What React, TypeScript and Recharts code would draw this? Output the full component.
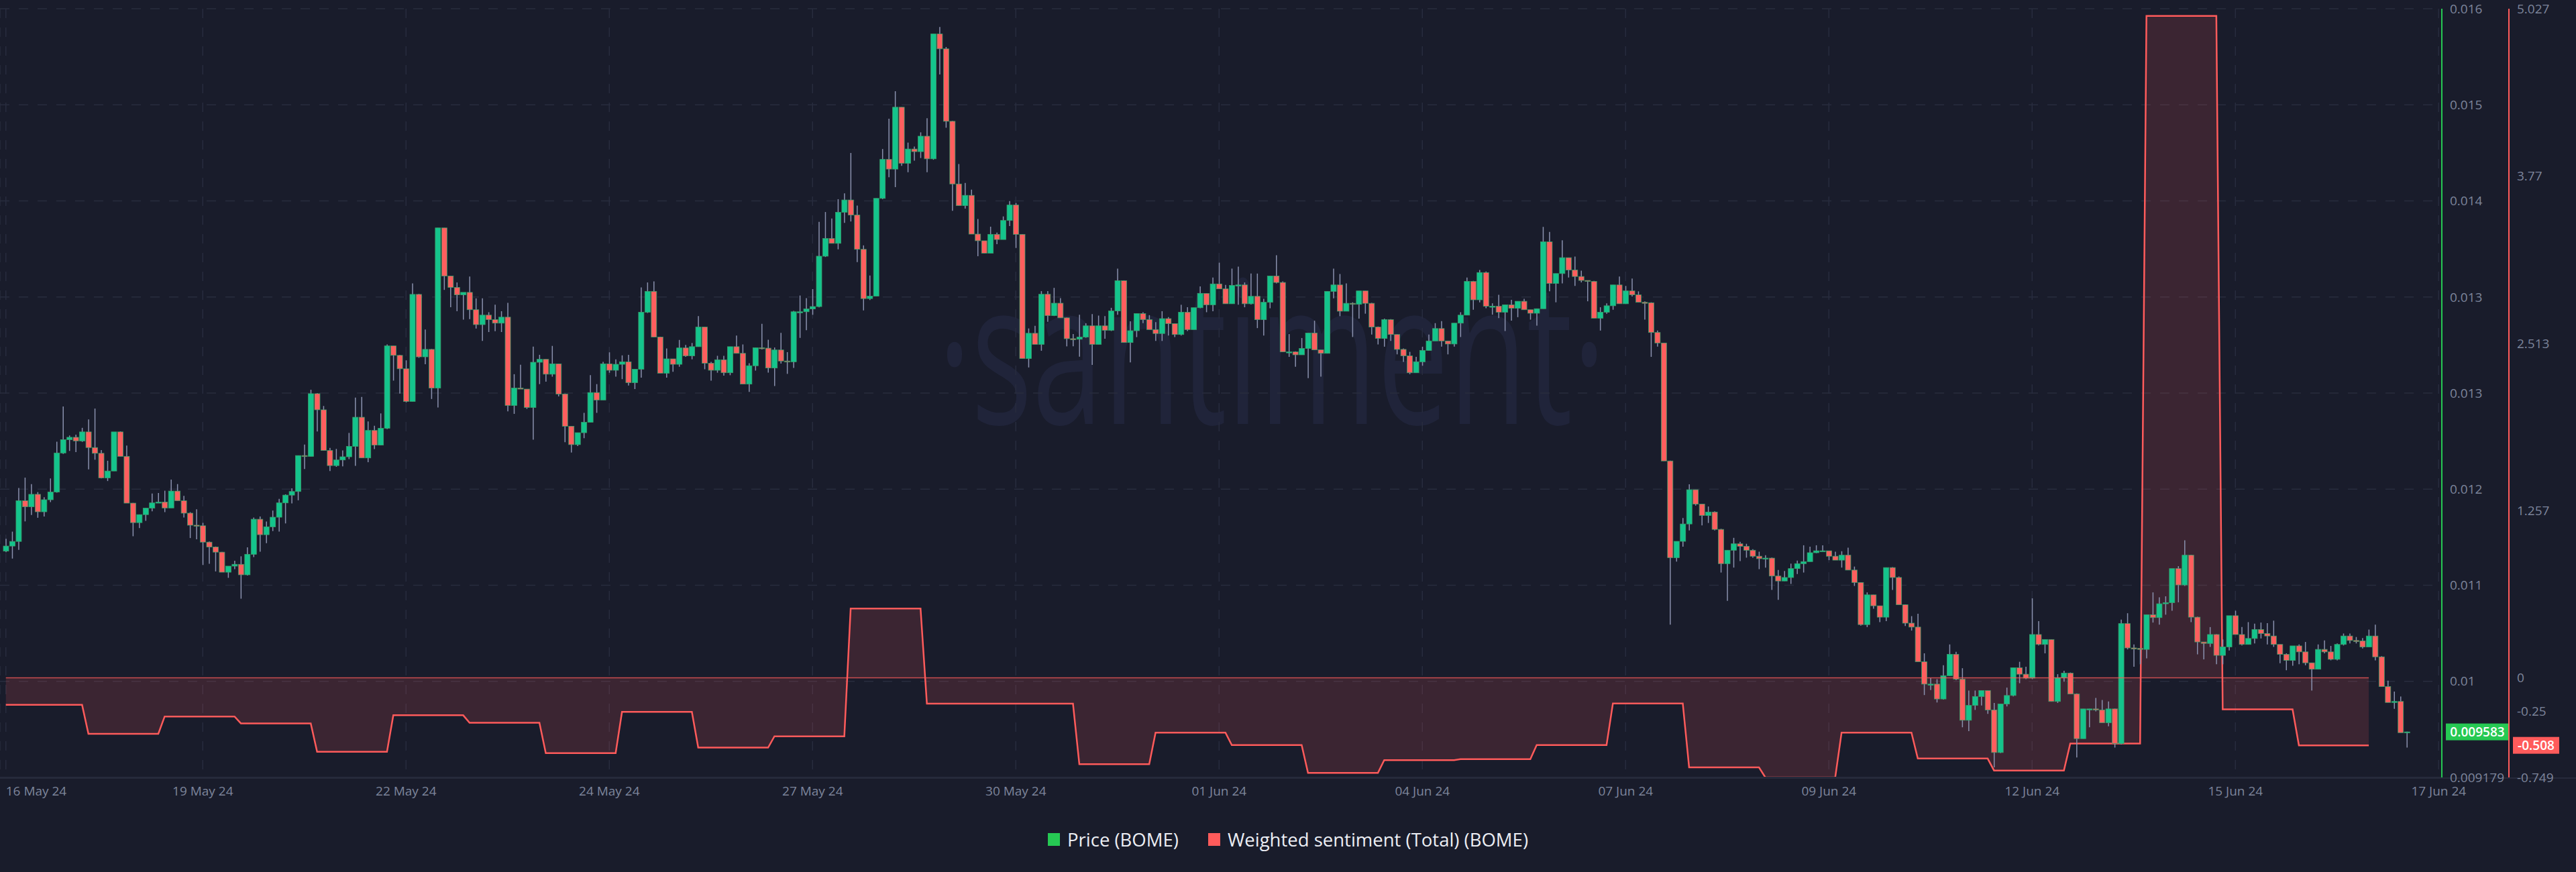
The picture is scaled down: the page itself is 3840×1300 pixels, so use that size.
import { ComposedChart, Bar, Area, XAxis, YAxis, CartesianGrid, ReferenceLine, Legend } from 'recharts';

// 2h candles, BOME price. open of each candle = close of the previous one
const firstOpen = 0.011187;

const close = [
  0.011232, 0.011273, 0.011634, 0.011581, 0.011691, 0.011536, 0.011643, 0.011711, 0.012058, 0.012176,
  0.012197, 0.012165, 0.012245, 0.012106, 0.012055, 0.011837, 0.011898, 0.012245, 0.012028, 0.011613,
  0.01144, 0.011511, 0.011568, 0.011615, 0.011622, 0.01157, 0.01172, 0.011634, 0.011524, 0.011417,
  0.011412, 0.011267, 0.011223, 0.011178, 0.011, 0.011054, 0.01107, 0.010977, 0.011159, 0.01147,
  0.011333, 0.011403, 0.011488, 0.011615, 0.011684, 0.011716, 0.012035, 0.012028, 0.012584, 0.012441,
  0.01208, 0.011946, 0.011996, 0.012024, 0.012117, 0.012375, 0.012014, 0.012258, 0.012128, 0.012277,
  0.013008, 0.012924, 0.012805, 0.012515, 0.013465, 0.012911, 0.012977, 0.012634, 0.014055, 0.013628,
  0.013527, 0.013461, 0.013483, 0.013329, 0.013197, 0.013281, 0.013241, 0.01321, 0.013263, 0.01248,
  0.012634, 0.012625, 0.012462, 0.012863, 0.012889, 0.012757, 0.012849, 0.012581, 0.012295, 0.012132,
  0.012238, 0.01233, 0.012594, 0.012528, 0.012849, 0.012792, 0.012845, 0.012867, 0.012682, 0.012801,
  0.013307, 0.013492, 0.013087, 0.012766, 0.012893, 0.012845, 0.01299, 0.01292, 0.013001, 0.013175,
  0.012854, 0.012792, 0.012885, 0.01277, 0.013001, 0.012942, 0.012669, 0.012832, 0.012992, 0.012988,
  0.012812, 0.012972, 0.012874, 0.012867, 0.013311, 0.013311, 0.013336, 0.013357, 0.013804, 0.013961,
  0.013918, 0.014194, 0.014303, 0.014169, 0.013865, 0.013428, 0.01345, 0.014317, 0.014663, 0.014577,
  0.015126, 0.014629, 0.014755, 0.014732, 0.014869, 0.014668, 0.015776, 0.015644, 0.015001, 0.014445,
  0.014253, 0.014344, 0.014, 0.013941, 0.013831, 0.013998, 0.013952, 0.014121, 0.014258, 0.013998,
  0.012896, 0.01312, 0.013022, 0.013466, 0.013277, 0.013387, 0.013257, 0.013072, 0.013067, 0.013086,
  0.013186, 0.013022, 0.013186, 0.013147, 0.013318, 0.013587, 0.013038, 0.013143, 0.013295, 0.013241,
  0.013153, 0.013118, 0.01325, 0.013206, 0.013109, 0.013307, 0.013153, 0.013347, 0.013474, 0.013373,
  0.013558, 0.013514, 0.013382, 0.013545, 0.013549, 0.013382, 0.013448, 0.013241, 0.013395, 0.013628,
  0.013571, 0.012955, 0.012955, 0.012929, 0.012986, 0.013122, 0.012973, 0.012942, 0.013492, 0.013549,
  0.013316, 0.013386, 0.013377, 0.013496, 0.013386, 0.013175, 0.013074, 0.013241, 0.013109, 0.012977,
  0.01292, 0.01277, 0.012867, 0.012968, 0.013052, 0.013162, 0.013052, 0.013025, 0.01321, 0.013281,
  0.01358, 0.013417, 0.013659, 0.01336, 0.01336, 0.013307, 0.013373, 0.013342, 0.013404, 0.013329,
  0.013298, 0.013338, 0.013932, 0.013562, 0.01365, 0.013791, 0.013681, 0.013624, 0.013589, 0.01358,
  0.013254, 0.013307, 0.013364, 0.013549, 0.013382, 0.013496, 0.013461, 0.013395, 0.013391, 0.013127,
  0.013034, 0.011987, 0.011129, 0.011274, 0.011428, 0.011732, 0.011604, 0.011503, 0.011534, 0.01138,
  0.011076, 0.011195, 0.011252, 0.01123, 0.011195, 0.011142, 0.01112, 0.011125, 0.010966, 0.010922,
  0.010953, 0.011032, 0.011076, 0.011094, 0.011173, 0.01119, 0.01119, 0.011142, 0.011107, 0.011151,
  0.011019, 0.010909, 0.010535, 0.010799, 0.010702, 0.010601, 0.011041, 0.010953, 0.010711, 0.010548,
  0.010513, 0.010205, 0.010007, 0.010007, 0.009875, 0.010082, 0.010271, 0.010051, 0.009686, 0.009818,
  0.009897, 0.00995, 0.009778, 0.0094, 0.009831, 0.009906, 0.010152, 0.010095, 0.01006, 0.010447,
  0.010359, 0.010403, 0.009853, 0.010064, 0.010104, 0.009919, 0.009523, 0.009787, 0.009787, 0.009778,
  0.009664, 0.009787, 0.009479, 0.010544, 0.010328, 0.010324, 0.010315, 0.010623, 0.010597, 0.01072,
  0.010729, 0.011032, 0.010887, 0.011151, 0.010601, 0.010381, 0.010368, 0.010447, 0.010262, 0.010337,
  0.010614, 0.010447, 0.010359, 0.010412, 0.010491, 0.010456, 0.010434, 0.010359, 0.010271, 0.010218,
  0.010346, 0.010293, 0.010196, 0.010139, 0.010315, 0.010293, 0.010227, 0.010359, 0.010434, 0.010394,
  0.01039, 0.010337, 0.010434, 0.010249, 0.009985, 0.009844, 0.009853, 0.009576, 0.009583,
];

const high = [
  0.011296, 0.01136, 0.011748, 0.011839, 0.011782, 0.011711, 0.011666, 0.011832, 0.012158, 0.01247,
  0.012213, 0.01222, 0.012281, 0.012356, 0.012452, 0.012083, 0.011989, 0.012245, 0.01225, 0.012124,
  0.011615, 0.011511, 0.011568, 0.011698, 0.011702, 0.011723, 0.011821, 0.011782, 0.011677, 0.011533,
  0.011558, 0.011438, 0.011273, 0.011228, 0.01118, 0.011054, 0.011102, 0.011141, 0.011221, 0.011485,
  0.011495, 0.011449, 0.011547, 0.01165, 0.011691, 0.011745, 0.012035, 0.012133, 0.012619, 0.01259,
  0.012475, 0.012103, 0.012094, 0.012081, 0.012236, 0.01255, 0.012555, 0.012338, 0.012299, 0.012409,
  0.013021, 0.013008, 0.012929, 0.01288, 0.013562, 0.01347, 0.013153, 0.012981, 0.014055, 0.014055,
  0.013628, 0.013571, 0.013483, 0.013624, 0.01343, 0.01343, 0.013307, 0.013373, 0.013316, 0.01339,
  0.012757, 0.012841, 0.012625, 0.013001, 0.012929, 0.01289, 0.013008, 0.01285, 0.012585, 0.012295,
  0.012238, 0.012414, 0.012748, 0.012669, 0.012867, 0.012951, 0.012889, 0.012924, 0.012929, 0.012801,
  0.013527, 0.013571, 0.01358, 0.01309, 0.012986, 0.012867, 0.013061, 0.013017, 0.013034, 0.013272,
  0.013175, 0.012867, 0.01292, 0.01292, 0.013001, 0.0131, 0.013021, 0.012854, 0.012992, 0.013204,
  0.013063, 0.012994, 0.013124, 0.012953, 0.013318, 0.013455, 0.013432, 0.013512, 0.014109, 0.014196,
  0.014139, 0.01431, 0.014362, 0.01472, 0.014253, 0.0139, 0.013633, 0.014317, 0.014755, 0.015024,
  0.015268, 0.015078, 0.014812, 0.014777, 0.014903, 0.015028, 0.015776, 0.015838, 0.01566, 0.015005,
  0.014622, 0.014454, 0.014394, 0.014134, 0.013938, 0.014066, 0.014014, 0.014157, 0.014294, 0.014276,
  0.014, 0.013163, 0.013186, 0.013494, 0.013494, 0.013523, 0.013432, 0.01326, 0.013113, 0.013284,
  0.013209, 0.013291, 0.013277, 0.013273, 0.013346, 0.013694, 0.01359, 0.013227, 0.013295, 0.013307,
  0.013281, 0.013219, 0.013316, 0.013263, 0.013171, 0.013373, 0.013351, 0.013347, 0.013536, 0.013474,
  0.013615, 0.013747, 0.013549, 0.013694, 0.013712, 0.013571, 0.01365, 0.01365, 0.013426, 0.013628,
  0.013813, 0.01358, 0.013113, 0.01296, 0.013078, 0.013122, 0.013232, 0.012973, 0.013492, 0.013694,
  0.013646, 0.013562, 0.013395, 0.013496, 0.013474, 0.01339, 0.01318, 0.01325, 0.013245, 0.01311,
  0.012986, 0.012955, 0.012911, 0.013001, 0.013109, 0.01321, 0.013228, 0.013052, 0.01321, 0.013307,
  0.013615, 0.013585, 0.013681, 0.013668, 0.013386, 0.013461, 0.013373, 0.013417, 0.013404, 0.013426,
  0.013329, 0.013338, 0.014064, 0.01402, 0.01365, 0.013945, 0.013791, 0.0138, 0.013676, 0.013589,
  0.013585, 0.013351, 0.013386, 0.013549, 0.013624, 0.01354, 0.013606, 0.013492, 0.013404, 0.013395,
  0.013144, 0.013034, 0.01199, 0.011274, 0.011481, 0.01178, 0.011732, 0.011591, 0.011583, 0.01154,
  0.011385, 0.011195, 0.011305, 0.01127, 0.011252, 0.011204, 0.011182, 0.011151, 0.01113, 0.011019,
  0.01101, 0.011076, 0.011103, 0.011239, 0.011226, 0.011239, 0.011239, 0.011186, 0.011182, 0.011186,
  0.011217, 0.01105, 0.010909, 0.010821, 0.010799, 0.010702, 0.011041, 0.011045, 0.010962, 0.010715,
  0.01061, 0.010632, 0.01028, 0.01006, 0.010051, 0.010174, 0.010359, 0.010293, 0.010148, 0.00995,
  0.00995, 0.00995, 0.00995, 0.00984, 0.009831, 0.009976, 0.010152, 0.010205, 0.010161, 0.010768,
  0.010566, 0.010403, 0.010403, 0.010095, 0.010126, 0.01011, 0.009925, 0.009787, 0.009787, 0.009884,
  0.009866, 0.009853, 0.00979, 0.010579, 0.010636, 0.010359, 0.010324, 0.010623, 0.010821, 0.010777,
  0.010786, 0.011032, 0.011054, 0.011283, 0.011155, 0.010605, 0.010381, 0.010513, 0.01045, 0.010403,
  0.010614, 0.010658, 0.010513, 0.010557, 0.010544, 0.010553, 0.010548, 0.01057, 0.010359, 0.01028,
  0.010346, 0.010359, 0.010381, 0.010196, 0.010359, 0.010394, 0.010346, 0.010368, 0.010456, 0.010456,
  0.010425, 0.010416, 0.010491, 0.010535, 0.010255, 0.010038, 0.009941, 0.009897, 0.009585,
];

const low = [
  0.011178, 0.011121, 0.011198, 0.011451, 0.011508, 0.011483, 0.011495, 0.011622, 0.011705, 0.01205,
  0.012076, 0.012065, 0.012156, 0.011912, 0.011998, 0.011832, 0.011809, 0.011905, 0.012028, 0.011613,
  0.011319, 0.011392, 0.011456, 0.01154, 0.011615, 0.011533, 0.01157, 0.011634, 0.011485, 0.011303,
  0.011292, 0.011064, 0.011075, 0.011007, 0.011, 0.01095, 0.011027, 0.010765, 0.01097, 0.011134,
  0.011182, 0.011257, 0.011365, 0.01136, 0.011433, 0.011611, 0.011638, 0.011916, 0.012042, 0.012249,
  0.01208, 0.011898, 0.011935, 0.011939, 0.012003, 0.011944, 0.012014, 0.011976, 0.012092, 0.012126,
  0.01227, 0.0127, 0.012585, 0.012506, 0.012515, 0.012902, 0.012845, 0.012537, 0.012462, 0.013505,
  0.013351, 0.013316, 0.013241, 0.013245, 0.013162, 0.013052, 0.013131, 0.013139, 0.013131, 0.012427,
  0.012405, 0.012625, 0.012449, 0.012176, 0.012669, 0.012691, 0.012735, 0.012559, 0.012154, 0.012062,
  0.012119, 0.012189, 0.01233, 0.012414, 0.012528, 0.01277, 0.012735, 0.012713, 0.012656, 0.012625,
  0.012726, 0.0133, 0.013087, 0.012766, 0.012726, 0.012779, 0.012823, 0.012911, 0.012889, 0.013001,
  0.012801, 0.0127, 0.01277, 0.012744, 0.012748, 0.012942, 0.012669, 0.0126, 0.012789, 0.012976,
  0.012771, 0.012652, 0.012851, 0.01276, 0.012812, 0.013079, 0.013147, 0.013284, 0.01335, 0.013797,
  0.013918, 0.013865, 0.0141, 0.014112, 0.013751, 0.013323, 0.013416, 0.01345, 0.01431, 0.014504,
  0.014417, 0.014606, 0.014549, 0.014652, 0.014675, 0.014549, 0.01466, 0.015416, 0.014944, 0.014207,
  0.014253, 0.014226, 0.014, 0.013804, 0.013831, 0.013831, 0.013911, 0.013952, 0.014071, 0.013877,
  0.012896, 0.012817, 0.013022, 0.012965, 0.013222, 0.013273, 0.013257, 0.013004, 0.013004, 0.012912,
  0.01308, 0.012839, 0.013022, 0.013072, 0.01314, 0.013284, 0.013038, 0.012862, 0.013086, 0.01321,
  0.013153, 0.013052, 0.013052, 0.0131, 0.013087, 0.0131, 0.01314, 0.013153, 0.013342, 0.013307,
  0.013316, 0.013514, 0.013382, 0.013382, 0.013373, 0.013351, 0.013375, 0.013166, 0.0131, 0.013342,
  0.013562, 0.012955, 0.012911, 0.012823, 0.012929, 0.012722, 0.012973, 0.012735, 0.012942, 0.01343,
  0.013272, 0.013316, 0.013087, 0.01325, 0.013294, 0.013109, 0.013021, 0.013001, 0.013052, 0.012933,
  0.012867, 0.012757, 0.01277, 0.012832, 0.012973, 0.013052, 0.013001, 0.012933, 0.013001, 0.013087,
  0.013294, 0.013329, 0.013395, 0.013342, 0.013285, 0.013254, 0.01314, 0.013232, 0.013263, 0.013329,
  0.013241, 0.013188, 0.013338, 0.013492, 0.013395, 0.013562, 0.013615, 0.01354, 0.013571, 0.013404,
  0.013254, 0.013144, 0.013294, 0.013329, 0.013382, 0.01338, 0.013447, 0.013395, 0.013241, 0.012911,
  0.013001, 0.011987, 0.010535, 0.011094, 0.011226, 0.011371, 0.011591, 0.011415, 0.011437, 0.011371,
  0.010997, 0.010746, 0.011041, 0.011098, 0.011129, 0.011129, 0.011027, 0.011041, 0.010843, 0.010755,
  0.010922, 0.010896, 0.010984, 0.010997, 0.011094, 0.011169, 0.011186, 0.011107, 0.011107, 0.011041,
  0.011019, 0.010878, 0.010526, 0.010513, 0.010676, 0.010557, 0.010566, 0.010843, 0.010711, 0.010522,
  0.010482, 0.010205, 0.00991, 0.009954, 0.009844, 0.00987, 0.01008, 0.010042, 0.009624, 0.009589,
  0.009778, 0.009818, 0.009743, 0.009268, 0.009395, 0.009809, 0.009897, 0.010015, 0.010051, 0.010051,
  0.01035, 0.01028, 0.009853, 0.00984, 0.010029, 0.009919, 0.009356, 0.009545, 0.009624, 0.009765,
  0.009664, 0.009633, 0.009444, 0.00947, 0.010315, 0.010161, 0.010183, 0.010235, 0.010553, 0.010535,
  0.010623, 0.010658, 0.010733, 0.010878, 0.010557, 0.010271, 0.010227, 0.010337, 0.010183, 0.010183,
  0.010306, 0.010447, 0.01035, 0.010359, 0.010368, 0.010412, 0.010359, 0.010337, 0.010192, 0.01013,
  0.01017, 0.010183, 0.010174, 0.00995, 0.010139, 0.01028, 0.010218, 0.010218, 0.01035, 0.010368,
  0.010368, 0.010324, 0.010337, 0.010218, 0.009985, 0.009844, 0.009787, 0.009576, 0.009444,
];

// weighted sentiment, one value per day (first day is partial)
const sentimentByDay = [
  -0.204, -0.421, -0.291, -0.343, -0.556, -0.282, -0.338, -0.566, -0.256, -0.525,
  -0.44, 0.52, -0.195, -0.195, -0.65, -0.412, -0.506, -0.715, -0.619, -0.612,
  -0.506, -0.193, -0.674, -0.749, -0.412, -0.607, -0.697, -0.495, 4.973, -0.238,
  -0.508,
];

const slotCount = 384;
const firstDaySlots = 13;
const slotsPerDay = 12;
const sentimentSlots = firstDaySlots + (sentimentByDay.length - 1) * slotsPerDay;

const dateTickSlots = [0, 31, 63, 95, 127, 159, 191, 223, 255, 287, 319, 351, 383];
const dateTickLabels = [
  '16 May 24', '19 May 24', '22 May 24', '24 May 24', '27 May 24', '30 May 24', '01 Jun 24',
  '04 Jun 24', '07 Jun 24', '09 Jun 24', '12 Jun 24', '15 Jun 24', '17 Jun 24',
];

const priceTicks = [0.009179, 0.010032, 0.010884, 0.011737, 0.01259, 0.013442, 0.014295, 0.015147, 0.016];
const priceTickLabels = ['0.009179', '0.01', '0.011', '0.012', '0.013', '0.013', '0.014', '0.015', '0.016'];
const sentimentTicks = [-0.749, -0.25, 0, 1.257, 2.513, 3.77, 5.027];
const sentimentTickLabels = ['-0.749', '-0.25', '0', '1.257', '2.513', '3.77', '5.027'];

const seriesNames = ['Price (BOME)', 'Weighted sentiment (Total) (BOME)'];

const BG = '#191c2b';
const GRID = '#282c3e';
const AXIS = '#262a3b';
const TICK = '#7d859b';
const UP = '#14c48c';
const DOWN = '#ff5e5e';
const WICK = '#8a91ae';
const PRICE_GREEN = '#26c953';
const SENT_RED = '#ff5b5b';
const FONT = '"Open Sans", sans-serif';

const data = Array.from({ length: slotCount }, (_, i) => {
  const row: any = { slot: i };
  if (i < close.length) {
    const open = i === 0 ? firstOpen : close[i - 1];
    const hi = Math.max(high[i], open, close[i]);
    const lo = Math.min(low[i], open, close[i]);
    row.open = open;
    row.close = close[i];
    row.high = hi;
    row.low = lo;
    row.range = [lo, hi];
  }
  if (i < sentimentSlots) {
    const day = i < firstDaySlots ? 0 : Math.floor((i - firstDaySlots) / slotsPerDay) + 1;
    row.sentiment = sentimentByDay[day];
  }
  return row;
});

const lastPrice = close[close.length - 1];
const lastSentiment = sentimentByDay[sentimentByDay.length - 1];

function Candle(props: any) {
  const { x, y, width, height, payload } = props;
  if (!payload || payload.high == null) return null;
  const { open, close: c, high: h, low: l } = payload;
  const span = h - l || 1;
  const toY = (v: number) => y + ((h - v) / span) * height;
  const top = toY(Math.max(open, c));
  const bottom = toY(Math.min(open, c));
  const cx = x + width / 2;
  return (
    <g>
      <line x1={cx} x2={cx} y1={y} y2={y + height} stroke={WICK} strokeWidth={1.5} />
      <rect
        x={x}
        y={top}
        width={width}
        height={Math.max(bottom - top, 1.5)}
        fill={c >= open ? UP : DOWN}
        stroke="#3a9f6c"
        strokeWidth={0.8}
      />
    </g>
  );
}

function DateTick({ x, y, payload }: any) {
  const idx = dateTickSlots.indexOf(payload.value);
  return (
    <text x={x} y={y} dy="0.71em" textAnchor={idx === 0 ? 'start' : 'middle'} fill={TICK} fontSize={19} fontFamily={FONT}>
      {dateTickLabels[idx]}
    </text>
  );
}

function ValueTag({ viewBox, text, color, dx, w }: any) {
  const left = viewBox.x + viewBox.width + dx;
  const cy = viewBox.y;
  return (
    <g>
      <rect x={left} y={cy - 12.5} width={w} height={25} fill={color} />
      <text x={left + w / 2} y={cy} dy="0.36em" textAnchor="middle" fill="#ffffff" fontSize={19} fontWeight={600} fontFamily={FONT}>
        {text}
      </text>
    </g>
  );
}

function LegendContent() {
  const colors = [PRICE_GREEN, SENT_RED];
  return (
    <div style={{ display: 'flex', justifyContent: 'center', alignItems: 'center', height: 40, gap: 44, fontFamily: FONT, fontSize: 27.5, color: '#eceef4' }}>
      {seriesNames.map((name, i) => (
        <div key={name} style={{ display: 'flex', alignItems: 'center' }}>
          <span style={{ width: 18, height: 19, background: colors[i], marginRight: 11, display: 'inline-block' }} />
          <span>{name}</span>
        </div>
      ))}
    </div>
  );
}

export default function App() {
  return (
    <div style={{ position: 'absolute', left: 0, top: 0, width: 3840, height: 1300, background: BG, overflow: 'hidden' }}>
      <svg width={3840} height={1300} style={{ position: 'absolute', left: 0, top: 0 }}>
        <text
          x={1896}
          y={632}
          textAnchor="middle"
          fontSize={297}
          fontFamily={FONT}
          textLength={996}
          lengthAdjust="spacingAndGlyphs"
          fill="#20243a"
        >
          ·santiment·
        </text>
        <line x1={0} x2={3840} y1={1160} y2={1160} stroke={AXIS} strokeWidth={2} />
      </svg>
      <div style={{ position: 'absolute', left: 0, top: 0 }}>
        <ComposedChart width={3840} height={1300} data={data} margin={{ top: 13, right: 0, bottom: 41, left: 0 }}>
          <CartesianGrid yAxisId="price" stroke={GRID} strokeDasharray="14 14" strokeWidth={1.5} />
          <XAxis
            dataKey="slot"
            type="category"
            ticks={dateTickSlots}
            interval={0}
            tick={<DateTick />}
            tickLine={false}
            tickSize={0}
            tickMargin={14}
            axisLine={{ stroke: AXIS, strokeWidth: 2 }}
            height={60}
            padding={{ left: 4, right: 0 }}
          />
          <YAxis
            yAxisId="price"
            orientation="right"
            width={100}
            domain={[priceTicks[0], priceTicks[priceTicks.length - 1]]}
            allowDataOverflow
            ticks={priceTicks}
            interval={0}
            tickFormatter={(v: number) => priceTickLabels[priceTicks.indexOf(v)] ?? String(v)}
            tick={{ fill: TICK, fontSize: 19, fontFamily: FONT }}
            tickLine={false}
            tickSize={0}
            tickMargin={12}
            axisLine={{ stroke: PRICE_GREEN, strokeWidth: 2 }}
          />
          <YAxis
            yAxisId="sent"
            orientation="right"
            width={100}
            domain={[sentimentTicks[0], sentimentTicks[sentimentTicks.length - 1]]}
            allowDataOverflow
            ticks={sentimentTicks}
            interval={0}
            tickFormatter={(v: number) => sentimentTickLabels[sentimentTicks.indexOf(v)] ?? String(v)}
            tick={{ fill: TICK, fontSize: 19, fontFamily: FONT }}
            tickLine={false}
            tickSize={0}
            tickMargin={12}
            axisLine={{ stroke: SENT_RED, strokeWidth: 2 }}
          />
          <Bar yAxisId="price" dataKey="range" barSize={8} shape={<Candle />} isAnimationActive={false} />
          <Area
            yAxisId="sent"
            dataKey="sentiment"
            type="linear"
            baseValue={0}
            stroke={SENT_RED}
            strokeWidth={2.5}
            fill={SENT_RED}
            fillOpacity={0.15}
            dot={false}
            activeDot={false}
            isAnimationActive={false}
          />
          <ReferenceLine
            yAxisId="sent"
            segment={[{ x: 0, y: 0 }, { x: sentimentSlots - 1, y: 0 }]}
            stroke={SENT_RED}
            strokeOpacity={0.75}
            strokeWidth={1.5}
          />
          <ReferenceLine
            yAxisId="price"
            y={lastPrice}
            stroke="none"
            label={(p: any) => <ValueTag viewBox={p.viewBox} text={lastPrice.toFixed(6)} color={PRICE_GREEN} dx={6} w={94} />}
          />
          <ReferenceLine
            yAxisId="sent"
            y={lastSentiment}
            stroke="none"
            label={(p: any) => <ValueTag viewBox={p.viewBox} text={lastSentiment.toFixed(3)} color={SENT_RED} dx={106} w={69} />}
          />
          <Legend content={<LegendContent />} wrapperStyle={{ top: 1231, left: 0, bottom: 'auto', width: 3840 }} />
        </ComposedChart>
      </div>
    </div>
  );
}
